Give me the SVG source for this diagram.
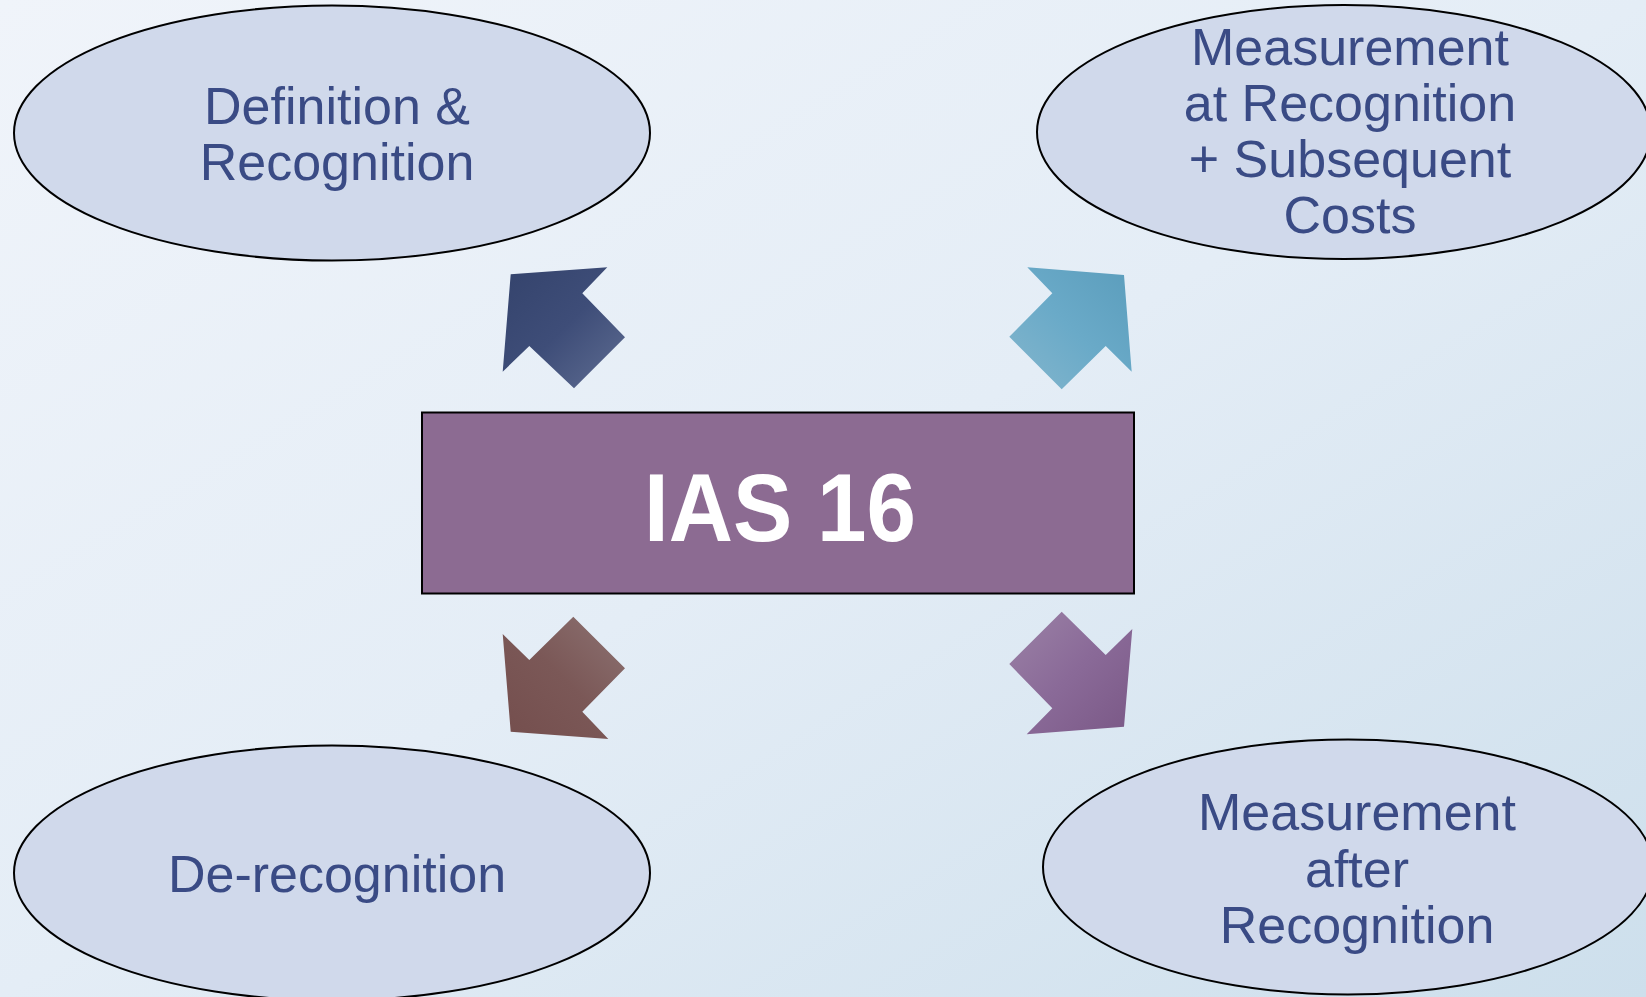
<svg xmlns="http://www.w3.org/2000/svg" width="1646" height="997" viewBox="0 0 1646 997">
<defs>
<linearGradient id="bg" x1="0" y1="0" x2="1" y2="1">
<stop offset="0" stop-color="#f0f4fa"/>
<stop offset="0.5" stop-color="#e4edf6"/>
<stop offset="1" stop-color="#cddfec"/>
</linearGradient>
<linearGradient id="gTL" x1="0" y1="0" x2="1" y2="1">
<stop offset="0" stop-color="#34436c"/>
<stop offset="0.5" stop-color="#3e4d78"/>
<stop offset="1" stop-color="#5f6d92"/>
</linearGradient>
<linearGradient id="gTR" x1="1" y1="0" x2="0" y2="1">
<stop offset="0" stop-color="#5b9dbc"/>
<stop offset="0.5" stop-color="#6aaac8"/>
<stop offset="1" stop-color="#84b6cd"/>
</linearGradient>
<linearGradient id="gBL" x1="1" y1="0" x2="0" y2="1">
<stop offset="0" stop-color="#8d7373"/>
<stop offset="0.5" stop-color="#7b5857"/>
<stop offset="1" stop-color="#744e4d"/>
</linearGradient>
<linearGradient id="gBR" x1="0" y1="0" x2="1" y2="1">
<stop offset="0" stop-color="#9b82a6"/>
<stop offset="0.5" stop-color="#8a6a98"/>
<stop offset="1" stop-color="#7a5886"/>
</linearGradient>
<style>
.oval{fill:#d0d9eb;stroke:#000;stroke-width:2}
.lbl{font-family:"Liberation Sans",Arial,sans-serif;font-size:52px;fill:#3a4b85;text-anchor:middle}
.title{font-family:"Liberation Sans",Arial,sans-serif;font-size:96px;font-weight:bold;fill:#ffffff;text-anchor:middle}
</style>
</defs>
<rect x="0" y="0" width="1646" height="997" fill="url(#bg)"/>

<g id="connectors">
<polygon id="arrow-tl" fill="url(#gTL)" points="510.7,274.3 607.3,267.3 582.3,293.3 625,337.3 574,388.3 529.3,346 502.7,371.7"/>
<polygon id="arrow-tr" fill="url(#gTR)" points="1027.3,267.3 1124,275 1131.7,371.7 1105.7,346 1061.7,389.3 1009.3,336.7 1052.3,293.3"/>
<polygon id="arrow-bl" fill="url(#gBL)" points="573.3,616.7 625,668.3 582.3,711.7 608.3,739 510.7,731.7 502.7,634 529.3,660"/>
<polygon id="arrow-br" fill="url(#gBR)" points="1061.7,611.7 1105.7,655 1132.3,629 1124,726.7 1026.7,734.3 1052.3,708.3 1009.3,664"/>
</g>

<g id="node-center">
<rect x="422" y="412.5" width="712" height="181" fill="#8c6b92" stroke="#000" stroke-width="2"/>
<text class="title" x="780" y="541" textLength="272" lengthAdjust="spacingAndGlyphs">IAS 16</text>
</g>

<g id="node-definition">
<ellipse class="oval" cx="332" cy="133" rx="318" ry="127.5"/>
<text class="lbl" x="337" y="124">Definition &amp;</text>
<text class="lbl" x="337" y="180">Recognition</text>
</g>

<g id="node-measurement-at">
<ellipse class="oval" cx="1344" cy="132" rx="307" ry="127"/>
<text class="lbl" x="1350" y="65">Measurement</text>
<text class="lbl" x="1350" y="121">at Recognition</text>
<text class="lbl" x="1350" y="177">+ Subsequent</text>
<text class="lbl" x="1350" y="233">Costs</text>
</g>

<g id="node-derecognition">
<ellipse class="oval" cx="332" cy="873" rx="318" ry="127.5"/>
<text class="lbl" x="337" y="892">De-recognition</text>
</g>

<g id="node-measurement-after">
<ellipse class="oval" cx="1348" cy="867" rx="305" ry="127.5"/>
<text class="lbl" x="1357" y="830">Measurement</text>
<text class="lbl" x="1357" y="887">after</text>
<text class="lbl" x="1357" y="943">Recognition</text>
</g>
</svg>
